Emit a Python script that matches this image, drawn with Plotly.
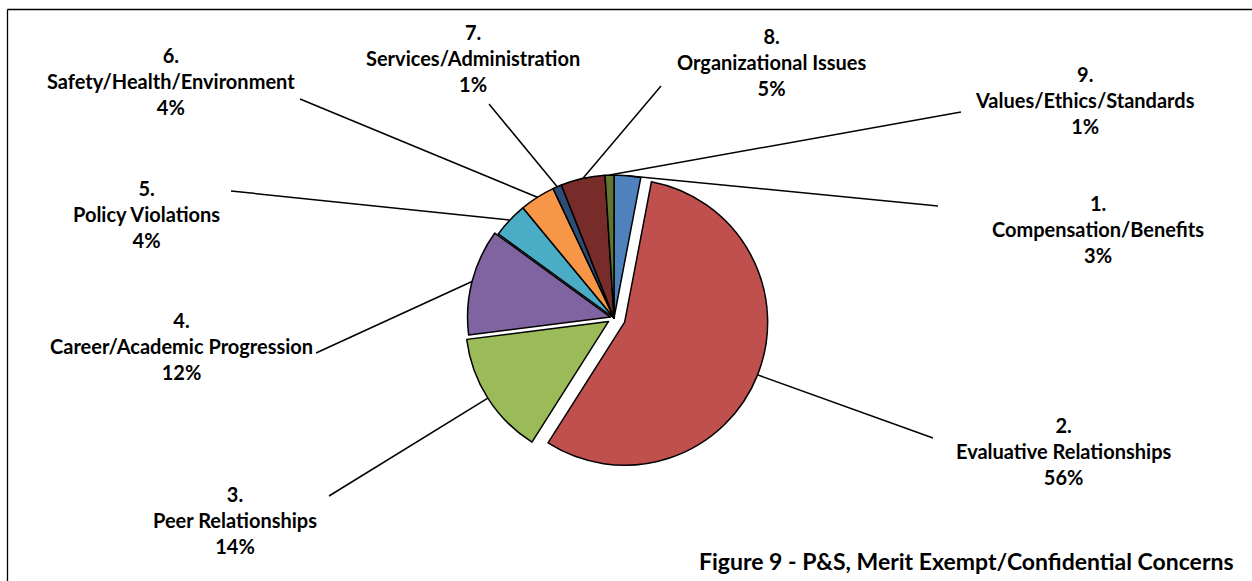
import math
import plotly.graph_objects as go

# ---- data ----
numbers = ["1.", "2.", "3.", "4.", "5.", "6.", "7.", "8.", "9."]
categories = ["Compensation/Benefits", "Evaluative Relationships", "Peer Relationships",
              "Career/Academic Progression", "Policy Violations", "Safety/Health/Environment",
              "Services/Administration", "Organizational Issues", "Values/Ethics/Standards"]
values = [3, 56, 14, 12, 4, 4, 1, 5, 1]
colors = ["#4F81BD", "#C0504D", "#9BBB59", "#8064A2", "#4BACC6", "#F79646",
          "#2C4D75", "#772C2A", "#5F7530"]
pulls = [0, 0.08, 0.045, 0.025, 0, 0, 0, 0, 0]
title_text = "Figure 9 - P&S, Merit Exempt/Confidential Concerns"

# ---- layout (pixels) ----
W, H = 1252, 581
CX, CY, R = 614, 318, 143
# label centre (middle line) positions and leader-line label ends
label_pos = [(1098, 229), (1064, 451), (235, 520), (181, 346), (146, 214),
             (171, 81), (473, 58), (771, 62), (1085, 100)]
leader_ends = [(938, 206), (933, 438), (329, 496), (316, 353), (231, 191),
               (300, 99), (489, 104), (661, 86), (961, 112)]

FONT = "Lato"
FS = 20

maxpull = max(pulls)
half = R * (1 + maxpull)

fig = go.Figure(go.Pie(
    values=values,
    labels=[n + " " + c for n, c in zip(numbers, categories)],
    sort=False,
    direction="clockwise",
    rotation=0,
    pull=pulls,
    marker=dict(colors=colors, line=dict(color="#000000", width=1.5)),
    textinfo="none",
    hoverinfo="label+percent",
    showlegend=False,
    domain=dict(x=[(CX - half) / W, (CX + half) / W],
                y=[1 - (CY + half) / H, 1 - (CY - half) / H]),
))

def px2paper(x, y):
    return x / W, 1 - y / H

total = sum(values)
shapes = []
annotations = []
cum = 0.0
for i, v in enumerate(values):
    mid = (cum + v / 2) / total * 2 * math.pi
    cum += v
    ux, uy = math.sin(mid), -math.cos(mid)
    ex = CX + (1 + pulls[i]) * R * ux
    ey = CY + (1 + pulls[i]) * R * uy
    x0, y0 = px2paper(ex, ey)
    x1, y1 = px2paper(*leader_ends[i])
    shapes.append(dict(type="line", xref="paper", yref="paper", x0=x0, y0=y0, x1=x1, y1=y1,
                       line=dict(color="#000000", width=1.5)))
    lx, ly = px2paper(*label_pos[i])
    pct = round(v / total * 100)
    annotations.append(dict(
        x=lx, y=ly, xref="paper", yref="paper", xanchor="center", yanchor="middle",
        text=f"{numbers[i]}<br>{categories[i]}<br>{pct}%", showarrow=False, align="center",
        font=dict(family=FONT, size=FS, color="#000000", weight="bold")))

tx, ty = px2paper(697, 561)
annotations.append(dict(x=tx, y=ty, xref="paper", yref="paper", xanchor="left", yanchor="middle",
                        text=title_text, showarrow=False,
                        font=dict(family=FONT, size=23, color="#000000", weight="bold")))

# chart area border (top and left edges visible)
bx0, by0 = px2paper(7.5, 9.5)
shapes.append(dict(type="line", xref="paper", yref="paper", x0=bx0, y0=by0, x1=1.01, y1=by0,
                   line=dict(color="#000000", width=1.3)))
shapes.append(dict(type="line", xref="paper", yref="paper", x0=bx0, y0=by0, x1=bx0, y1=-0.01,
                   line=dict(color="#000000", width=1.3)))

fig.update_layout(
    width=W, height=H,
    margin=dict(l=0, r=0, t=0, b=0),
    paper_bgcolor="white", plot_bgcolor="white",
    shapes=shapes, annotations=annotations,
)

fig.write_html("out.html", config={"displayModeBar": False},
               post_script="document.body.style.margin='0px';")
